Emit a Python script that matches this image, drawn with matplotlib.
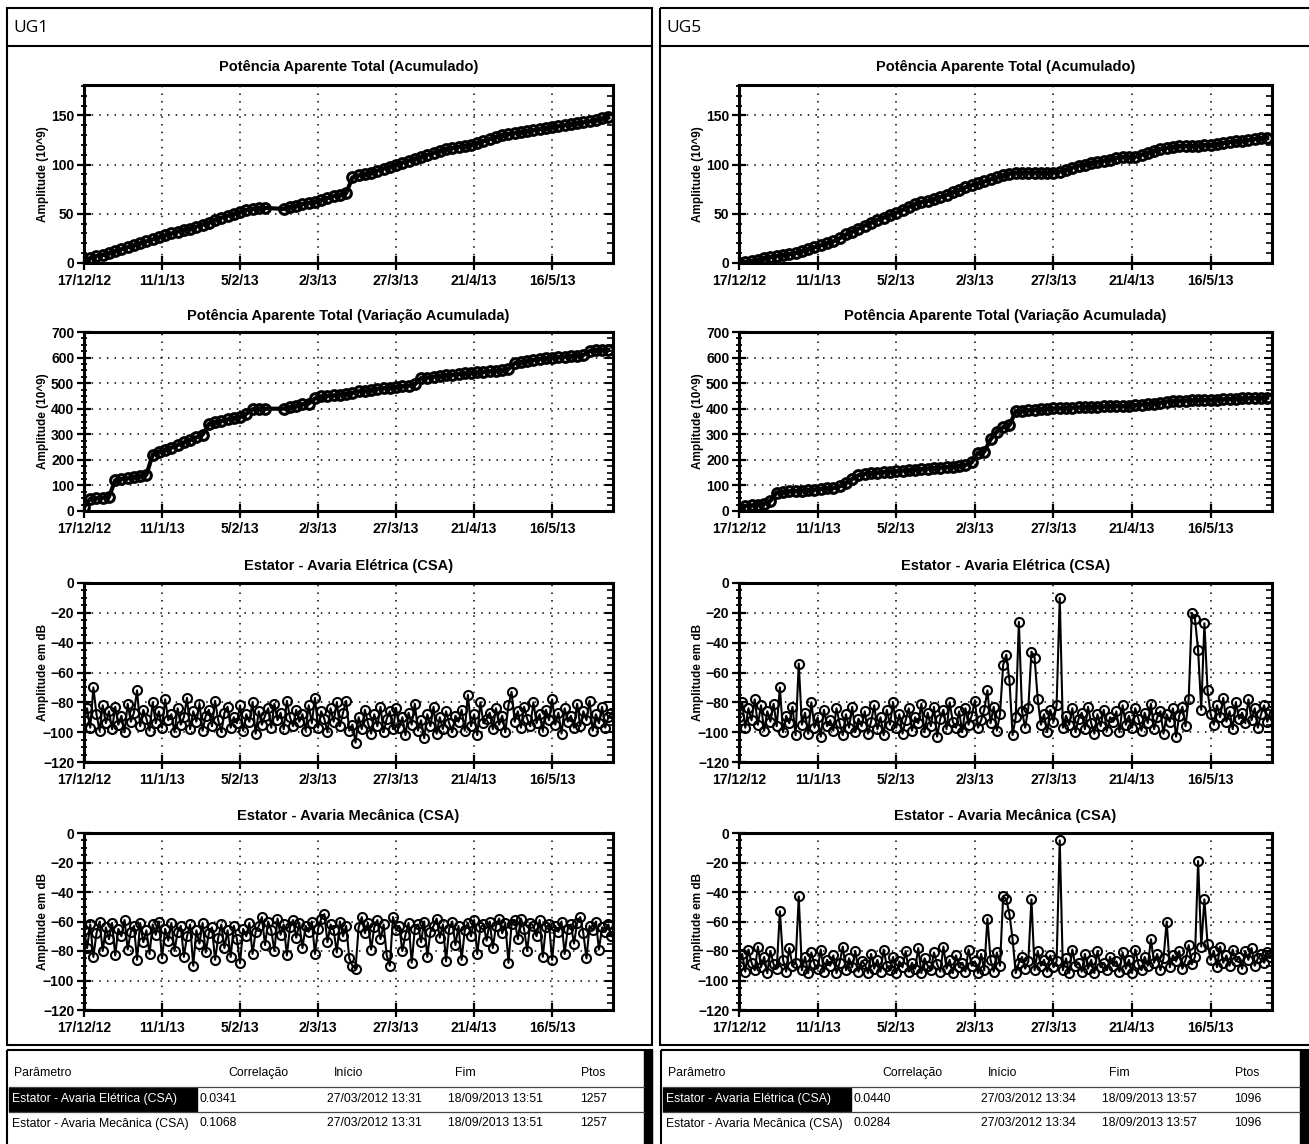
import numpy as np
import matplotlib
matplotlib.use("Agg")
import matplotlib.pyplot as plt
from matplotlib.patches import Rectangle
from matplotlib.ticker import MultipleLocator, FixedLocator

plt.rcParams['font.family'] = ['Liberation Sans', 'DejaVu Sans']

# ---------------- data ----------------
start_date = '2012-12-17'
tick_dates = ['2012-12-17', '2013-01-11', '2013-02-05', '2013-03-02',
              '2013-03-27', '2013-04-21', '2013-05-16']
tick_labels = ['17/12/12', '11/1/13', '5/2/13', '2/3/13', '27/3/13', '21/4/13', '16/5/13']

titles = ['Potência Aparente Total (Acumulado)',
          'Potência Aparente Total (Variação Acumulada)',
          'Estator - Avaria Elétrica (CSA)',
          'Estator - Avaria Mecânica (CSA)']
ylabels = ['Amplitude (10^9)', 'Amplitude (10^9)', 'Amplitude em dB', 'Amplitude em dB']
panel_names = ['UG1', 'UG5']

# UG1 cumulative (day offsets from 17/12/12)
ug1_days = [0, 2, 4, 6, 8, 10, 12, 14, 16, 18, 20, 22, 24, 26, 28, 30, 32, 34, 36, 38,
            40, 42, 44, 46, 48, 50, 52, 54, 56, 58,
            64, 66, 68, 70, 72, 74, 76, 78, 80, 82, 84, 86, 88, 90, 92, 94, 96, 98,
            100, 102, 104, 106, 108, 110, 112, 114, 116, 118, 120, 122, 124, 126, 128,
            130, 132, 134, 136, 138, 140, 142, 144, 146, 148, 150, 152, 154, 156, 158,
            160, 162, 164, 166, 168]
ug1_acum = [2, 5, 7, 8, 10, 12, 14, 16, 18, 20, 22, 24, 26, 28, 30, 32, 34, 35, 37, 39,
            41, 44, 46, 48, 50, 52, 54, 55, 56, 56,
            55, 57, 58, 60, 61, 62, 64, 66, 68, 69, 71, 87, 89, 90, 92, 94, 96, 98,
            100, 102, 104, 106, 108, 110, 112, 114, 116, 117, 118, 119, 120, 122, 124,
            126, 128, 130, 131, 132, 133, 134, 135, 136, 137, 138, 139, 140, 141, 142,
            143, 144, 145, 147, 148]
ug1_var = [15, 48, 50, 52, 55, 120, 125, 128, 132, 138, 142, 220, 232, 240, 248, 258, 268, 278, 288, 298,
           340, 348, 352, 358, 362, 368, 380, 398, 400, 400,
           400, 405, 412, 418, 420, 440, 448, 450, 452, 455, 458, 462, 468, 470, 474, 478, 480, 482,
           485, 488, 490, 495, 520, 522, 525, 528, 530, 532, 535, 538, 540, 542, 544,
           546, 548, 550, 555, 578, 582, 586, 590, 594, 598, 600, 602, 604, 606, 608,
           610, 625, 630, 630, 630]

# UG5 cumulative
ug5_days = list(range(0, 170, 2))
ug5_acum = [0, 1, 2, 3, 5, 6, 7, 8, 9, 10, 12, 14, 16, 18, 20, 22, 25, 29, 32, 35,
            38, 41, 44, 46, 49, 51, 54, 57, 60, 62, 63, 65, 67, 69, 72, 74, 77, 79, 81, 83,
            85, 87, 89, 91, 92, 92, 92, 92, 92, 92, 92, 93, 95, 97, 99, 100, 102, 103, 104, 105,
            107, 108, 108, 108, 110, 112, 114, 116, 117, 118, 119, 119, 119, 119, 120, 120, 121, 122, 123, 124,
            124, 125, 126, 127, 127]
ug5_var = [10, 20, 22, 25, 28, 40, 72, 75, 77, 78, 80, 82, 84, 86, 88, 90, 96, 110, 125, 140,
           145, 148, 150, 152, 154, 156, 158, 160, 162, 164, 166, 168, 170, 172, 174, 176, 180, 190, 228, 232,
           280, 310, 328, 335, 390, 392, 394, 396, 398, 400, 401, 402, 403, 404, 405, 406, 407, 408, 409, 410,
           412, 410, 412, 414, 416, 418, 420, 424, 428, 430, 432, 432, 433, 434, 434, 435, 436, 437, 438, 439,
           440, 441, 442, 443, 443]

# Daily CSA values (dB), days 0..169
ug1_elet = [-92, -84, -97, -70, -88, -99, -82, -94, -86, -98,
            -83, -95, -89, -100, -81, -93, -87, -72, -96, -85,
            -91, -99, -80, -94, -86, -97, -78, -92, -88, -100,
            -84, -95, -90, -77, -98, -86, -93, -81, -99, -89,
            -85, -96, -79, -92, -100, -87, -83, -97, -90, -94,
            -82, -99, -88, -93, -80, -101, -86, -95, -89, -84,
            -97, -81, -92, -87, -98, -79, -90, -96, -85, -93,
            -88, -99, -82, -94, -77, -97, -86, -91, -100, -84,
            -93, -80, -96, -87, -79, -99, -95, -107, -90, -98,
            -85, -94, -101, -88, -96, -83, -100, -91, -86, -98,
            -84, -97, -90, -102, -87, -95, -81, -99, -92, -104,
            -88, -96, -83, -101, -90, -98, -86, -94, -100, -89,
            -93, -85, -99, -75, -96, -88, -102, -80, -94, -91,
            -87, -98, -84, -95, -89, -100, -82, -73, -93, -86,
            -97, -83, -91, -96, -80, -94, -88, -99, -85, -92,
            -78, -95, -87, -101, -84, -93, -89, -97, -81, -96,
            -86, -92, -79, -99, -88, -94, -83, -97, -90, -87]
ug1_mec = [-66, -78, -62, -84, -68, -60, -80, -64, -72, -61,
           -83, -65, -70, -59, -79, -67, -63, -86, -61, -74,
           -66, -82, -62, -69, -60, -85, -65, -73, -61, -80,
           -67, -63, -84, -70, -62, -90, -66, -75, -61, -81,
           -68, -64, -86, -71, -62, -78, -66, -84, -63, -72,
           -88, -65, -70, -61, -82, -67, -63, -57, -76, -60,
           -66, -80, -58, -69, -62, -83, -64, -59, -71, -61,
           -78, -63, -67, -60, -82, -65, -58, -55, -74, -62,
           -66, -81, -60, -70, -63, -85, -90, -92, -64, -57,
           -68, -61, -79, -64, -59, -72, -62, -83, -90, -57,
           -66, -63, -80, -69, -61, -88, -65, -62, -74, -60,
           -84, -67, -63, -58, -71, -62, -87, -65, -60, -76,
           -63, -86, -66, -61, -70, -59, -82, -64, -62, -73,
           -60, -78, -63, -58, -68, -61, -88, -62, -59, -72,
           -58, -65, -80, -61, -63, -70, -59, -84, -64, -62,
           -86, -63, -67, -60, -82, -65, -62, -75, -61, -57,
           -68, -85, -63, -66, -60, -79, -64, -67, -62, -70]
ug5_elet = [-90, -80, -97, -84, -92, -78, -95, -82, -99, -86,
            -93, -81, -96, -70, -100, -89, -94, -83, -102, -54,
            -95, -87, -101, -80, -97, -90, -103, -85, -96, -92,
            -99, -84, -94, -102, -88, -97, -83, -100, -91, -96,
            -86, -101, -93, -82, -98, -90, -102, -85, -95, -80,
            -97, -88, -101, -92, -84, -99, -90, -94, -81, -100,
            -87, -96, -83, -103, -91, -85, -98, -80, -93, -97,
            -86, -100, -84, -95, -89, -79, -97, -92, -85, -72,
            -94, -83, -99, -88, -55, -48, -65, -102, -90, -26,
            -86, -97, -84, -46, -50, -78, -95, -88, -100, -85,
            -93, -82, -10, -97, -89, -95, -84, -100, -91, -87,
            -98, -83, -94, -101, -88, -96, -85, -99, -90, -93,
            -86, -100, -82, -95, -89, -97, -84, -91, -99, -87,
            -94, -81, -98, -90, -86, -101, -88, -93, -84, -103,
            -89, -83, -96, -78, -20, -24, -45, -85, -27, -72,
            -88, -95, -82, -90, -77, -93, -86, -98, -80, -91,
            -87, -94, -78, -92, -84, -97, -88, -82, -93, -86]
ug5_mec = [-90, -82, -94, -79, -88, -93, -77, -91, -84, -95,
           -80, -89, -92, -53, -86, -94, -78, -90, -88, -43,
           -93, -84, -95, -81, -89, -92, -79, -94, -86, -90,
           -83, -95, -88, -77, -93, -85, -91, -80, -94, -87,
           -89, -95, -82, -92, -86, -94, -79, -90, -93, -84,
           -95, -87, -91, -80, -94, -88, -92, -78, -95, -85,
           -90, -93, -81, -89, -94, -77, -92, -86, -95, -83,
           -91, -88, -94, -79, -90, -87, -95, -82, -93, -58,
           -86, -94, -81, -90, -43, -45, -55, -72, -95, -88,
           -84, -92, -87, -45, -93, -80, -90, -86, -94, -83,
           -91, -87, -5, -93, -85, -95, -79, -90, -88, -94,
           -82, -92, -86, -95, -80, -91, -88, -93, -84, -90,
           -87, -94, -81, -92, -86, -95, -79, -89, -93, -84,
           -90, -72, -88, -82, -93, -85, -60, -91, -83, -87,
           -80, -92, -86, -76, -89, -84, -19, -77, -45, -75,
           -86, -80, -91, -77, -88, -83, -90, -79, -87, -84,
           -92, -80, -86, -78, -90, -85, -82, -88, -81, -84]

table_header = ['Parâmetro', 'Correlação', 'Início', 'Fim', 'Ptos']
table_params = ['Estator - Avaria Elétrica (CSA)', 'Estator - Avaria Mecânica (CSA)']
table_corr = [['0.0341', '0.1068'], ['0.0440', '0.0284']]
table_inicio = [['27/03/2012 13:31', '27/03/2012 13:31'], ['27/03/2012 13:34', '27/03/2012 13:34']]
table_fim = [['18/09/2013 13:51', '18/09/2013 13:51'], ['18/09/2013 13:57', '18/09/2013 13:57']]
table_ptos = [['1257', '1257'], ['1096', '1096']]

# ---------------- figure ----------------
W, H = 1309, 1144
fig = plt.figure(figsize=(W / 100, H / 100), dpi=100)

bg = fig.add_axes([0, 0, 1, 1], zorder=-5)
bg.set_xlim(0, W)
bg.set_ylim(H, 0)
bg.axis('off')

t0 = np.datetime64(start_date)
def to_dates(days):
    return t0 + np.array(days).astype('timedelta64[D]')

xmin = t0
xmax = t0 + np.timedelta64(4068, 'h')
tick_x = [np.datetime64(d) for d in tick_dates]

panel_x = [(84, 613), (739, 1272)]
row_y = [(85, 263), (332, 511), (583, 762), (833, 1010)]
title_y = [67, 316, 566, 816]
panel_box = [(7, 652), (660, 1320)]

series = [
    [(ug1_days, ug1_acum), (ug1_days, ug1_var), (list(range(len(ug1_elet))), ug1_elet), (list(range(len(ug1_mec))), ug1_mec)],
    [(ug5_days, ug5_acum), (ug5_days, ug5_var), (list(range(len(ug5_elet))), ug5_elet), (list(range(len(ug5_mec))), ug5_mec)],
]
ylims = [(0, 181), (0, 700), (-120, 0), (-120, 0)]
ymaj = [50, 100, 20, 20]
ymin_ = [10, 25, 5, 5]

for p in range(2):
    bx0, bx1 = panel_box[p]
    bg.add_patch(Rectangle((bx0, 8), bx1 - bx0, 1045 - 8, fill=False, lw=1.5, ec='black'))
    bg.plot([bx0, bx1], [46, 46], color='black', lw=1.5)
    bg.text(bx0 + 6, 28, panel_names[p], fontsize=12.5, family=['Open Sans', 'DejaVu Sans'],
            va='center', ha='left')
    x0, x1 = panel_x[p]
    for r in range(4):
        y0, y1 = row_y[r]
        ax = fig.add_axes([x0 / W, 1 - y1 / H, (x1 - x0) / W, (y1 - y0) / H])
        days, vals = series[p][r]
        if r < 2:
            ax.plot(to_dates(days), vals, color='black', lw=3.0, marker='o', ms=7.0,
                    mfc='none', mec='black', mew=2.2)
        else:
            ax.plot(to_dates(days), vals, color='black', lw=1.5, marker='o', ms=6.5,
                    mfc='none', mec='black', mew=1.5)
        ax.set_xlim(xmin, xmax)
        ax.set_ylim(*ylims[r])
        ax.xaxis.set_major_locator(FixedLocator(matplotlib.dates.date2num(tick_x)))
        ax.set_xticklabels(tick_labels)
        ax.yaxis.set_major_locator(MultipleLocator(ymaj[r]))
        ax.yaxis.set_minor_locator(MultipleLocator(ymin_[r]))
        for s in ax.spines.values():
            s.set_linewidth(2.2)
        ax.grid(True, which='major', color='black', linestyle=(0, (1, 4)), linewidth=1.1)
        ax.tick_params(axis='x', which='major', direction='inout', length=10, width=1.6,
                       labelsize=10, pad=3)
        ax.tick_params(axis='y', which='major', direction='inout', length=10, width=1.6,
                       labelsize=10, pad=2)
        ax.tick_params(axis='y', which='minor', direction='inout', length=5, width=1.3)
        for lab in ax.get_xticklabels() + ax.get_yticklabels():
            lab.set_fontweight('bold')
        ax2 = ax.twinx()
        ax2.set_ylim(*ylims[r])
        ax2.yaxis.set_major_locator(MultipleLocator(ymaj[r]))
        ax2.yaxis.set_minor_locator(MultipleLocator(ymin_[r]))
        ax2.tick_params(axis='y', which='major', direction='in', length=6, width=1.5, labelright=False)
        ax2.tick_params(axis='y', which='minor', direction='in', length=4, width=1.2)
        for s in ax2.spines.values():
            s.set_visible(False)
        bg.text((x0 + x1) / 2, title_y[r], titles[r], fontsize=10.5, fontweight='bold',
                ha='center', va='center')
        bg.text(x0 - 41, (y0 + y1) / 2, ylabels[r], fontsize=8.5, fontweight='bold',
                rotation=90, ha='center', va='center')

# ---------------- tables ----------------
offsets = [0, 654]
for p in range(2):
    o = offsets[p]
    right = 652 if p == 0 else 1309
    bg.add_patch(Rectangle((7 + o, 1050), right - 7, 100, fill=False, lw=1.5, ec='black'))
    bg.add_patch(Rectangle((right - 8 if p == 0 else 1300, 1050), 8, 100, color='black'))
    for yy in (1087, 1112):
        bg.plot([9 + o, (right - 8) if p == 0 else 1300], [yy, yy], color='#444444', lw=0.9)
    bg.add_patch(Rectangle((9 + o, 1088), 188, 23, color='black'))
    hx = [14, 228, 334, 455, 581]
    for i, h in enumerate(table_header):
        bg.text(hx[i] + o, 1073, h, fontsize=8.8, ha='left', va='center')
    for rr in range(2):
        yy = 1099 + rr * 24.5
        bg.text(12 + o, yy, table_params[rr], fontsize=8.8, ha='left', va='center',
                color='white' if rr == 0 else 'black')
        bg.text(200 + o, yy, table_corr[p][rr], fontsize=8.8, ha='left', va='center')
        bg.text(327 + o, yy, table_inicio[p][rr], fontsize=8.8, ha='left', va='center')
        bg.text(448 + o, yy, table_fim[p][rr], fontsize=8.8, ha='left', va='center')
        bg.text(580 + o, yy, table_ptos[p][rr], fontsize=8.8, ha='left', va='center')

fig.savefig('out.png', dpi=100)
